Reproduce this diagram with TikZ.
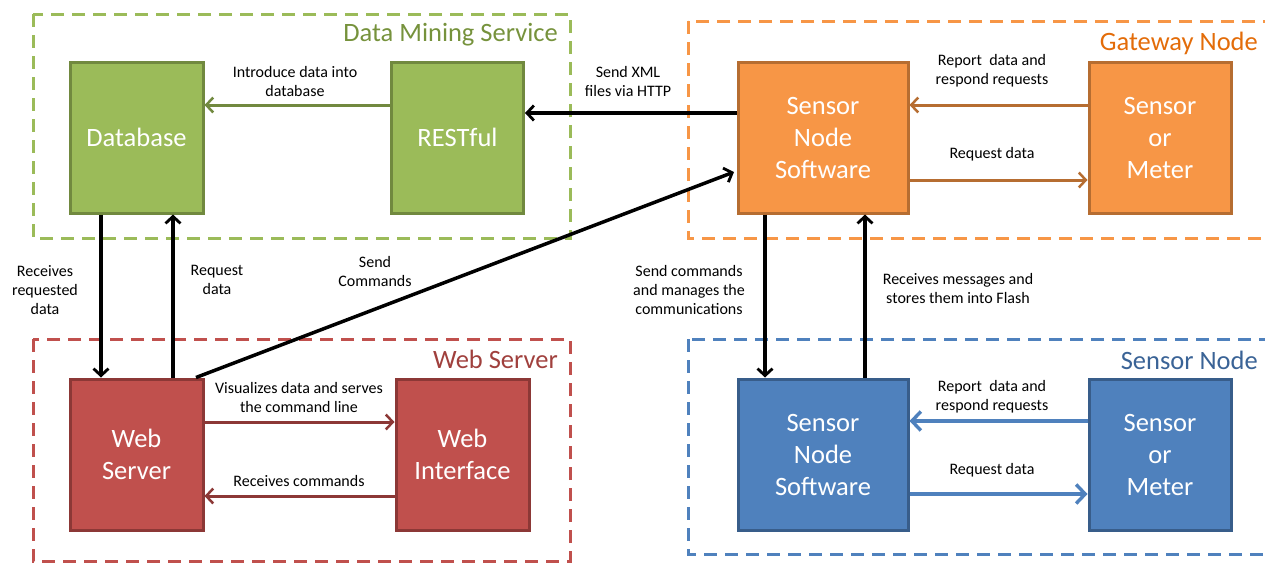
\documentclass[tikz,border=0pt]{standalone}
\usepackage{fontspec}
\setmainfont{Carlito}
\usetikzlibrary{arrows.meta}
\definecolor{gfill}{HTML}{9BBB59}\definecolor{gline}{HTML}{71893F}\definecolor{gtext}{HTML}{76923C}
\definecolor{ofill}{HTML}{F79646}\definecolor{oline}{HTML}{B66D31}\definecolor{otext}{HTML}{E36C09}
\definecolor{rfill}{HTML}{C0504D}\definecolor{rline}{HTML}{8C3836}\definecolor{rtext}{HTML}{A0403D}
\definecolor{bfill}{HTML}{4F81BD}\definecolor{bline}{HTML}{385D8A}\definecolor{btext}{HTML}{3A6396}
\tikzset{
  box/.style={draw, line width=3pt, minimum height=151pt, inner sep=0pt, text=white, align=center,
    font=\fontsize{26.5}{32}\selectfont},
  lbl/.style={font=\fontsize{16}{19}\selectfont, align=center, inner sep=0pt},
  grp/.style={dash pattern=on 13pt off 8pt, line width=3pt},
  ttl/.style={anchor=east, inner sep=0pt, font=\fontsize{26.5}{30}\selectfont},
  tip/.style={-{Straight Barb[length=7pt,width=15pt,line width=#1]}},
  bigtip/.style={-{Straight Barb[length=9pt,width=19pt,line width=#1]}},
  blk/.style={line width=3.5pt, black, tip=2.8pt},
  carrow/.style={line width=3pt, draw=#1, tip=2.5pt},
  barrow/.style={line width=4pt, draw=bfill, bigtip=3.4pt},
}
\begin{document}
\begin{tikzpicture}[x=1pt,y=-1pt]
\useasboundingbox (0,0) rectangle (1265,563);
\clip (0,0) rectangle (1265,563);
% groups
\draw[grp, gfill] (33,14) rectangle (570,238);
\draw[grp, ofill] (688,21) rectangle (1290,238);
\draw[grp, rfill] (33,339) rectangle (570,561);
\draw[grp, bfill] (688,339) rectangle (1290,554);
\node[ttl, gtext] (tdm) at (558,35) {Data Mining Service};
\node[ttl, otext] (tgw) at (1258,43) {Gateway Node};
\node[ttl, rtext] (tws) at (558,359) {Web Server};
\node[ttl, btext] (tsn) at (1258,360) {Sensor Node};
% boxes
\node[box, fill=gfill, draw=gline, minimum width=133pt] (db) at (136.5,137.5) {Database};
\node[box, fill=gfill, draw=gline, minimum width=132pt] (rest) at (457.5,137.5) {RESTful};
\node[box, fill=ofill, draw=oline, minimum width=170pt] (gsns) at (823,137.5) {Sensor\\Node\\Software};
\node[box, fill=ofill, draw=oline, minimum width=142pt] (gsm) at (1160,137.5) {Sensor\\or\\Meter};
\node[box, fill=rfill, draw=rline, minimum width=133pt] (ws) at (136.5,454.5) {Web\\Server};
\node[box, fill=rfill, draw=rline, minimum width=133pt] (wi) at (462.5,454.5) {Web\\Interface};
\node[box, fill=bfill, draw=bline, minimum width=170pt] (ssns) at (823,454.5) {Sensor\\Node\\Software};
\node[box, fill=bfill, draw=bline, minimum width=142pt] (ssm) at (1160,454.5) {Sensor\\or\\Meter};
% coordinates
\coordinate (c1) at (0,105);
\coordinate (c2) at (0,113);
\coordinate (c3) at (0,180);
\coordinate (c4) at (0,422);
\coordinate (c5) at (0,496);
\coordinate (c6) at (0,494);
\coordinate (c7) at (0,421);
\coordinate (x1) at (101,0);
\coordinate (x2) at (173,0);
\coordinate (x3) at (765,0);
\coordinate (x4) at (865,0);
\coordinate (wsc) at (196,377.5);
\coordinate (gend) at (734,172);
% connectors
\draw[carrow=gline] (rest.west |- c1) -- (db.east |- c1);
\draw[blk] (gsns.west |- c2) -- (rest.east |- c2);
\draw[carrow=oline] (gsm.west |- c1) -- (gsns.east |- c1);
\draw[carrow=oline] (gsns.east |- c3) -- (gsm.west |- c3);
\draw[blk] (x1 |- db.south) -- (x1 |- ws.north);
\draw[blk] (x2 |- ws.north) -- (x2 |- db.south);
\draw[blk] (wsc) -- (gend);
\draw[blk] (x3 |- gsns.south) -- (x3 |- ssns.north);
\draw[blk] (x4 |- ssns.north) -- (x4 |- gsns.south);
\draw[carrow=rline] (ws.east |- c4) -- (wi.west |- c4);
\draw[carrow=rline] (wi.west |- c5) -- (ws.east |- c5);
\draw[barrow] (ssm.west |- c7) -- (ssns.east |- c7);
\draw[barrow] (ssns.east |- c6) -- (ssm.west |- c6);
% labels
\node[lbl] (l1) at (295,81) {Introduce data into\\database};
\node[lbl] (l2) at (628,81) {Send XML\\files via HTTP};
\node[lbl] (l3) at (992,71) {Report\ \ data and\\respond requests};
\node[lbl] (l4) at (992,154) {Request data};
\node[lbl] (l5) at (45,290) {Receives\\requested\\data};
\node[lbl] (l6) at (217,280) {Request\\data};
\node[lbl] (l7) at (375,271) {Send\\Commands};
\node[lbl] (l8) at (689,290) {Send commands\\and manages the\\communications};
\node[lbl] (l9) at (958,288) {Receives messages and\\stores them into Flash};
\node[lbl] (l10) at (299,397) {Visualizes data and serves\\the command line};
\node[lbl] (l11) at (299,481) {Receives commands};
\node[lbl] (l12) at (992,397) {Report\ \ data and\\respond requests};
\node[lbl] (l13) at (992,470) {Request data};
\end{tikzpicture}
\end{document}
